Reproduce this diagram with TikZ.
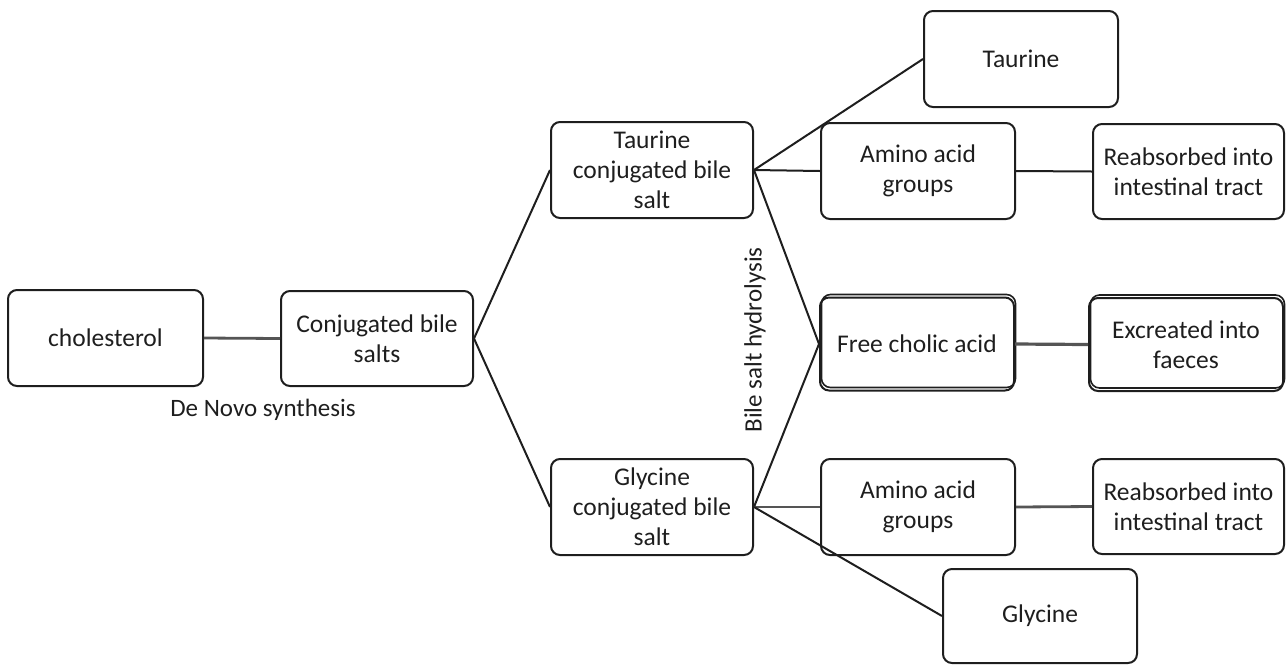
\documentclass[tikz,border=0pt]{standalone}
\usepackage{fontspec}
\setmainfont{Carlito}
\definecolor{ink}{HTML}{1E1E1E}
\definecolor{greyline}{HTML}{555555}
\begin{document}
\begin{tikzpicture}[x=1pt,y=-1pt,
  box/.style={draw=ink, line width=2pt, rounded corners=9pt, align=center,
    inner sep=0pt, text=ink, font=\fontsize{25.5}{30}\selectfont},
  shadowbox/.style={box, preaction={draw=ink, line width=1.6pt, rounded corners=9pt,
    transform canvas={xshift=1.5pt,yshift=3pt}}},
  link/.style={draw=ink, line width=2pt},
  glink/.style={draw=greyline, line width=2.8pt},
  lbl/.style={text=ink, font=\fontsize{25}{29}\selectfont, inner sep=0pt}]
\useasboundingbox (0,0) rectangle (1287,665);

\node[box, minimum width=195pt, minimum height=96pt] (chol) at (105.5,338) {cholesterol};
\node[box, minimum width=192pt, minimum height=95pt] (cbs) at (377,338.5) {Conjugated bile\\salts};
\node[box, minimum width=202pt, minimum height=96pt] (tcb) at (652,170) {Taurine\\conjugated bile\\salt};
\node[box, minimum width=202pt, minimum height=96pt] (gcb) at (652,507) {Glycine\\conjugated bile\\salt};
\node[box, minimum width=194pt, minimum height=96pt] (tau) at (1021,59) {Taurine};
\node[box, minimum width=194pt, minimum height=96pt] (aat) at (918,171) {Amino acid\\groups};
\node[box, minimum width=191pt, minimum height=95pt] (rat) at (1188.5,171.5) {Reabsorbed into\\intestinal tract};
\node[shadowbox, minimum width=194pt, minimum height=93pt] (fca) at (917,344) {Free cholic acid};
\node[shadowbox, minimum width=194pt, minimum height=93pt] (exf) at (1186,344.5) {Excreated into\\faeces};
\node[box, minimum width=194pt, minimum height=96pt] (aab) at (918,507) {Amino acid\\groups};
\node[box, minimum width=191pt, minimum height=95pt] (rab) at (1188.5,506.5) {Reabsorbed into\\intestinal tract};
\node[box, minimum width=194pt, minimum height=94pt] (gly) at (1040,616) {Glycine};

\draw[glink] (chol.east) -- (cbs.west);
\draw[link] (cbs.east) -- (tcb.west);
\draw[link] (cbs.east) -- (gcb.west);
\draw[link] (tcb.east) -- (tau.west);
\draw[link] (tcb.east) -- (aat.west);
\draw[link] (tcb.east) -- (fca.west);
\draw[link] (gcb.east) -- (fca.west);
\draw[glink] (gcb.east) -- (aab.west);
\draw[link] (gcb.east) -- (gly.west);
\draw[link] (aat.east) -- (rat.west);
\draw[glink, line width=3.2pt] (fca.east) -- (exf.west);
\draw[glink] (aab.east) -- (rab.west);

\node[lbl] (dns) at (263,410) {De Novo synthesis};
\node[lbl, rotate=90] (bsh) at (755,340) {Bile salt hydrolysis};
\end{tikzpicture}
\end{document}
